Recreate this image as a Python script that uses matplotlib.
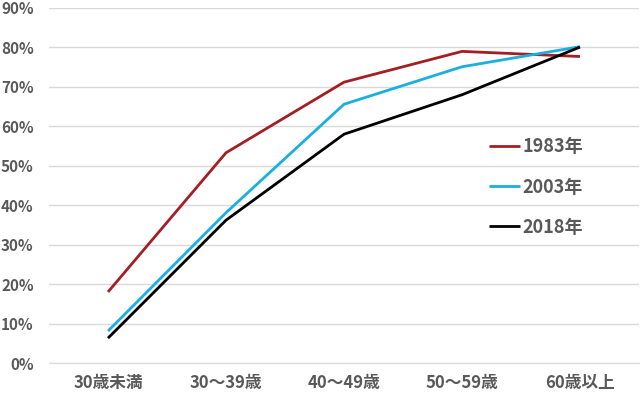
import matplotlib
matplotlib.use("Agg")
import matplotlib.pyplot as plt
from matplotlib.ticker import PercentFormatter

plt.rcParams['font.family'] = ['Noto Sans CJK JP', 'DejaVu Sans']

categories = ["30歳未満", "30〜39歳", "40〜49歳", "50〜59歳", "60歳以上"]
series_names = ["1983年", "2003年", "2018年"]
v1983 = [18.0, 53.3, 71.2, 79.0, 77.7]
v2003 = [8.1, 38.1, 65.6, 75.1, 80.2]
v2018 = [6.3, 36.2, 58.0, 68.0, 80.1]
yticks = [0, 10, 20, 30, 40, 50, 60, 70, 80, 90]

colors = ["#A51E22", "#1AAFE0", "#000000"]
text_color = "#595959"

fig = plt.figure(figsize=(6.4, 3.95), dpi=100)
ax = fig.add_axes([49/640, 1-363/395, 590/640, 355/395])

x = list(range(len(categories)))
for vals, name, c in zip([v1983, v2003, v2018], series_names, colors):
    ax.plot(x, vals, color=c, lw=2.0, label=name, solid_capstyle='butt')

ax.set_xlim(-0.5, len(categories) - 0.5)
ax.set_ylim(0, 90)
ax.set_yticks(yticks)
ax.yaxis.set_major_formatter(PercentFormatter(decimals=0))
ax.set_xticks(x)
ax.set_xticklabels(categories)
ax.grid(axis='y', color='#D9D9D9', lw=1.0)
ax.set_axisbelow(True)
for s in ['top', 'right', 'left']:
    ax.spines[s].set_visible(False)
ax.spines['bottom'].set_color('#D9D9D9')
ax.tick_params(axis='both', length=0, colors=text_color)
ax.tick_params(axis='y', pad=11, labelsize=11)
ax.tick_params(axis='x', pad=8, labelsize=12)
for lab in ax.get_xticklabels() + ax.get_yticklabels():
    lab.set_fontweight('bold')

leg = ax.legend(loc='upper left', bbox_to_anchor=(0.718, 0.681), frameon=False,
                handlelength=1.7, handletextpad=0.15, labelspacing=1.17,
                prop={'weight': 'bold', 'size': 13})
for t in leg.get_texts():
    t.set_color(text_color)

fig.savefig("out.png", dpi=100)
